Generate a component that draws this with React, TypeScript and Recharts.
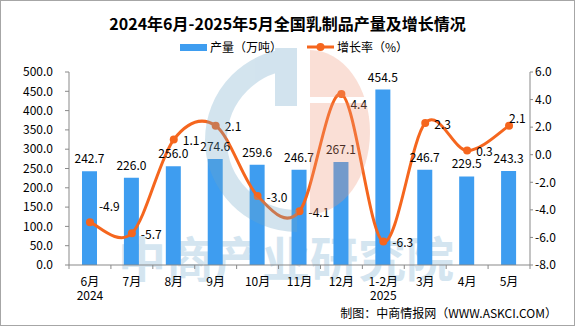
import React from 'react';
import { ComposedChart, Bar, Line, XAxis, YAxis, LabelList, Legend } from 'recharts';

const categories = ['6月', '7月', '8月', '9月', '10月', '11月', '12月', '1-2月', '3月', '4月', '5月'];
const yearLabels = ['2024', '', '', '', '', '', '', '2025', '', '', ''];
const production = [242.7, 226.0, 256.0, 274.6, 259.6, 246.7, 267.1, 454.5, 246.7, 229.5, 243.3];
const growth = [-4.9, -5.7, 1.1, 2.1, -3.0, -4.1, 4.4, -6.3, 2.3, 0.3, 2.1];
const leftTicks = [0, 50, 100, 150, 200, 250, 300, 350, 400, 450, 500];
const rightTicks = [-8, -6, -4, -2, 0, 2, 4, 6];

const data = categories.map((name, i) => ({
  name,
  year: yearLabels[i],
  production: production[i],
  growth: growth[i],
}));

const FONT = "'Noto Sans CJK SC', 'Noto Sans', sans-serif";
const BAR = '#3E9DF0';
const ORANGE = '#F5661E';
const AXIS = '#898989';

// Excel-like smoothed line (Catmull-Rom through every point)
const excelCurve: any = (context: any) => {
  let pts: number[][] = [];
  return {
    areaStart() {},
    areaEnd() {},
    lineStart() {
      pts = [];
    },
    lineEnd() {
      const n = pts.length;
      if (!n) return;
      context.moveTo(pts[0][0], pts[0][1]);
      const t = 1 / 6;
      for (let i = 0; i < n - 1; i++) {
        const p0 = pts[i - 1] || pts[i];
        const p1 = pts[i];
        const p2 = pts[i + 1];
        const p3 = pts[i + 2] || p2;
        context.bezierCurveTo(
          p1[0] + (p2[0] - p0[0]) * t,
          p1[1] + (p2[1] - p0[1]) * t,
          p2[0] - (p3[0] - p1[0]) * t,
          p2[1] - (p3[1] - p1[1]) * t,
          p2[0],
          p2[1]
        );
      }
    },
    point(x: number, y: number) {
      pts.push([+x, +y]);
    },
  };
};

const XTick = (props: any) => {
  const { x, y, payload } = props;
  const i = payload?.index ?? props.index ?? 0;
  const half = typeof payload?.offset === 'number' && payload.offset > 0 ? payload.offset : 21;
  const year = yearLabels[i];
  return (
    <g>
      <line x1={x - half} x2={x - half} y1={y} y2={y + 4} stroke={AXIS} />
      {i === categories.length - 1 && <line x1={x + half} x2={x + half} y1={y} y2={y + 4} stroke={AXIS} />}
      <text x={x} y={y + 15} textAnchor="middle" dominantBaseline="central" fontSize={12} fill="#000" fontFamily={FONT}>
        {payload.value}
      </text>
      {year && (
        <text x={x} y={y + 29} textAnchor="middle" dominantBaseline="central" fontSize={12} fill="#000" fontFamily={FONT}>
          {year}
        </text>
      )}
    </g>
  );
};

const LABEL_NUDGE: Record<number, number[]> = { 0: [0, -17], 6: [0, 9], 10: [-9, -8] };

const lineLabel = (props: any) => {
  const { x, y, value, index } = props;
  const nudge = LABEL_NUDGE[index] || [0, 0];
  return (
    <text
      x={x + 9 + nudge[0]}
      y={y + nudge[1]}
      dominantBaseline="central"
      fontSize={12}
      fill="#000"
      fontFamily={FONT}
    >
      {Number(value).toFixed(1)}
    </text>
  );
};

const renderLegend = () => (
  <div
    style={{
      display: 'flex',
      alignItems: 'center',
      height: 18,
      paddingLeft: 180,
      fontSize: 12,
      fontFamily: FONT,
      color: '#000',
      lineHeight: '18px',
    }}
  >
    <span style={{ display: 'inline-block', width: 27, height: 7, background: BAR }} />
    <span style={{ marginLeft: 3 }}>产量（万吨）</span>
    <svg width={27} height={10} style={{ marginLeft: 25 }}>
      <line x1={0} y1={5} x2={27} y2={5} stroke={ORANGE} strokeWidth={3} />
      <circle cx={13.5} cy={5} r={4} fill={ORANGE} />
    </svg>
    <span style={{ marginLeft: 3 }}>增长率（%）</span>
  </div>
);

export default function App() {
  return (
    <div style={{ position: 'absolute', left: 0, top: 0, width: 575, height: 326, background: '#fff', overflow: 'hidden' }}>
      <svg width={575} height={326} style={{ position: 'absolute', left: 0, top: 0 }}>
        <text x={118} y={256} dominantBaseline="central" fontSize={48} fontWeight={700} fill="#D4E5F0" fontFamily={FONT}>
          中商产业研究院
        </text>
      </svg>
      <div style={{ position: 'absolute', left: 0, top: 0 }}>
        <ComposedChart width={575} height={326} data={data} margin={{ top: 72, right: 0, bottom: 31, left: 0 }}>
          <XAxis
            dataKey="name"
            height={30}
            axisLine={{ stroke: AXIS }}
            tickLine={false}
            tickSize={0}
            tickMargin={0}
            interval={0}
            tick={<XTick />}
          />
          <YAxis
            yAxisId="left"
            orientation="left"
            width={69}
            domain={[0, 500]}
            ticks={leftTicks}
            interval={0}
            tickFormatter={(v: number) => v.toFixed(1)}
            axisLine={{ stroke: AXIS }}
            tickLine={{ stroke: AXIS }}
            tickSize={4}
            tickMargin={12}
            tick={{ fill: '#000', fontSize: 12, fontFamily: FONT }}
          />
          <YAxis
            yAxisId="right"
            orientation="right"
            width={45}
            domain={[-8, 6]}
            ticks={rightTicks}
            interval={0}
            tickFormatter={(v: number) => v.toFixed(1)}
            axisLine={{ stroke: AXIS }}
            tickLine={{ stroke: AXIS }}
            tickSize={3}
            tickMargin={2}
            tick={{ fill: '#000', fontSize: 12, fontFamily: FONT }}
          />
          <Legend
            layout="horizontal"
            verticalAlign="middle"
            align="center"
            content={renderLegend}
            wrapperStyle={{ top: 38, left: 0, width: 575, height: 18 }}
          />
          <Bar yAxisId="left" dataKey="production" name="产量（万吨）" fill={BAR} barSize={15} isAnimationActive={false}>
            <LabelList
              dataKey="production"
              position="top"
              offset={8}
              formatter={(v: any) => Number(v).toFixed(1)}
              style={{ fill: '#000', fontSize: 12, fontFamily: FONT }}
            />
          </Bar>
          <Line
            yAxisId="right"
            dataKey="growth"
            name="增长率（%）"
            type={excelCurve}
            stroke={ORANGE}
            strokeWidth={3}
            dot={{ r: 4, fill: ORANGE, stroke: ORANGE, strokeWidth: 0 }}
            activeDot={false}
            isAnimationActive={false}
          >
            <LabelList dataKey="growth" content={lineLabel} />
          </Line>
        </ComposedChart>
      </div>
      <svg width={575} height={326} style={{ position: 'absolute', left: 0, top: 0, pointerEvents: 'none' }}>
        <defs>
          <clipPath id="pinkClip">
            <rect x={0} y={0} width={575} height={97} />
            <rect x={0} y={103} width={575} height={223} />
          </clipPath>
        </defs>
        <g opacity={0.3}>
          <path d="M 297 59 A 81 81 0 0 0 297 221" fill="none" stroke="rgb(110,165,200)" strokeWidth={22} />
          <rect x={275} y={48} width={22} height={58} fill="rgb(110,165,200)" />
        </g>
        <path d="M 310 50 A 60 82 0 0 1 310 214 Z" fill="rgb(240,150,120)" opacity={0.3} clipPath="url(#pinkClip)" />
        <text x={287.5} y={22.7} textAnchor="middle" dominantBaseline="central" fontSize={16} fontWeight={700} fill="#000" fontFamily={FONT}>
          2024年6月-2025年5月全国乳制品产量及增长情况
        </text>
        <text x={557} y={312} textAnchor="end" dominantBaseline="central" fontSize={12} fill="#000" fontFamily={FONT}>
          制图：中商情报网（WWW.ASKCI.COM）
        </text>
      </svg>
      <div
        style={{
          position: 'absolute',
          left: 0,
          top: 0,
          width: 575,
          height: 326,
          boxSizing: 'border-box',
          border: '1px solid #A6A6A6',
          pointerEvents: 'none',
        }}
      />
    </div>
  );
}
